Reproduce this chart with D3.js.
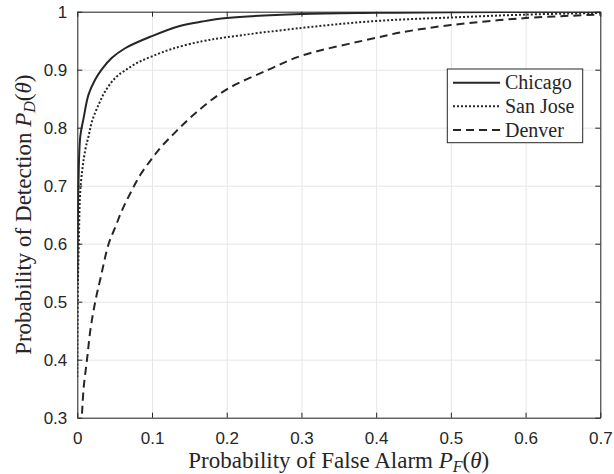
<!DOCTYPE html>
<html>
<head>
<meta charset="utf-8">
<script src="https://cdn.jsdelivr.net/npm/d3@7"></script>
<style>
  body { margin: 0; background: #fff; }
  svg { display: block; }
  .tick text { font-family: "Liberation Sans", Arial, sans-serif; font-size: 17px; fill: #262626; }
  .lbl { font-family: "Liberation Serif", "Times New Roman", serif; font-size: 23px; fill: #262626; }
  .leg { font-family: "Liberation Serif", "Times New Roman", serif; font-size: 20px; fill: #262626; }
</style>
</head>
<body>
<svg width="614" height="474"></svg>
<script>
// series: [false alarm, detection]
const chicagoX = [0, 0.0005, 0.0015, 0.004, 0.0085, 0.015, 0.024, 0.033, 0.046, 0.064, 0.1, 0.136, 0.167, 0.2, 0.3, 0.4, 0.5, 0.6, 0.7];
const chicagoY = [0.535, 0.6, 0.7, 0.785, 0.817, 0.857, 0.883, 0.901, 0.92, 0.937, 0.958, 0.975, 0.983, 0.989, 0.996, 0.998, 0.999, 0.9995, 1.0];

const sanJoseX = [0, 0.0005, 0.002, 0.0045, 0.0107, 0.015, 0.0197, 0.0286, 0.0375, 0.051, 0.0665, 0.082, 0.1, 0.127, 0.167, 0.2, 0.3, 0.4, 0.5, 0.6, 0.7];
const sanJoseY = [0.37, 0.5, 0.6, 0.7, 0.762, 0.785, 0.811, 0.84, 0.863, 0.886, 0.901, 0.913, 0.923, 0.936, 0.949, 0.956, 0.972, 0.984, 0.99, 0.995, 0.998];

const denverX = [0.0063, 0.0086, 0.013, 0.0174, 0.024, 0.031, 0.042, 0.051, 0.06, 0.071, 0.084, 0.1, 0.113, 0.131, 0.158, 0.2, 0.256, 0.3, 0.4, 0.432, 0.5, 0.6, 0.7];
const denverY = [0.307, 0.353, 0.4, 0.45, 0.5, 0.54, 0.6, 0.629, 0.658, 0.687, 0.718, 0.747, 0.768, 0.792, 0.825, 0.866, 0.9, 0.924, 0.955, 0.964, 0.977, 0.989, 0.995];

const names = ['Chicago', 'San Jose', 'Denver'];
const xTicks = [0, 0.1, 0.2, 0.3, 0.4, 0.5, 0.6, 0.7];
const yTicks = [0.3, 0.4, 0.5, 0.6, 0.7, 0.8, 0.9, 1];

const series = [
  { name: names[0], pts: chicagoX.map((x, i) => [x, chicagoY[i]]), dash: null },
  { name: names[1], pts: sanJoseX.map((x, i) => [x, sanJoseY[i]]), dash: '2 2' },
  { name: names[2], pts: denverX.map((x, i) => [x, denverY[i]]), dash: '8 5' }
];

const pLeft = 77.3, pRight = 600.3, pTop = 11.7, pBottom = 417.7;
const ink = '#262626';

const svg = d3.select('svg');

const x = d3.scaleLinear().domain([0, 0.7]).range([pLeft, pRight]);
const y = d3.scaleLinear().domain([0.3, 1]).range([pBottom, pTop]);

// grid
svg.append('g')
  .attr('transform', `translate(0, ${pBottom})`)
  .call(d3.axisBottom(x).tickValues(xTicks).tickSize(-(pBottom - pTop)).tickFormat(''))
  .call(g => g.select('.domain').remove())
  .call(g => g.selectAll('line').attr('stroke', '#e6e6e6'));
svg.append('g')
  .attr('transform', `translate(${pLeft}, 0)`)
  .call(d3.axisLeft(y).tickValues(yTicks).tickSize(-(pRight - pLeft)).tickFormat(''))
  .call(g => g.select('.domain').remove())
  .call(g => g.selectAll('line').attr('stroke', '#e6e6e6'));

svg.append('clipPath').attr('id', 'clip')
  .append('rect').attr('x', pLeft).attr('y', pTop).attr('width', pRight - pLeft).attr('height', pBottom - pTop);

const line = d3.line().x(d => x(d[0])).y(d => y(d[1])).curve(d3.curveCatmullRom.alpha(0.5));

svg.append('g').attr('clip-path', 'url(#clip)')
  .selectAll('path')
  .data(series)
  .join('path')
  .attr('d', d => line(d.pts))
  .attr('fill', 'none')
  .attr('stroke', ink)
  .attr('stroke-width', 2)
  .attr('stroke-dasharray', d => d.dash);

// axes with inward ticks on all sides
const styleAxis = g => {
  g.select('.domain').attr('stroke', ink);
  g.selectAll('.tick line').attr('stroke', ink);
};
svg.append('g')
  .attr('transform', `translate(0, ${pBottom})`)
  .call(d3.axisBottom(x).tickValues(xTicks).tickSizeInner(-5).tickSizeOuter(0).tickPadding(14).tickFormat(d3.format('')))
  .call(styleAxis);
svg.append('g')
  .attr('transform', `translate(0, ${pTop})`)
  .call(d3.axisTop(x).tickValues(xTicks).tickSizeInner(-5).tickSizeOuter(0).tickFormat(''))
  .call(styleAxis);
svg.append('g')
  .attr('transform', `translate(${pLeft}, 0)`)
  .call(d3.axisLeft(y).tickValues(yTicks).tickSizeInner(-5).tickSizeOuter(0).tickPadding(10).tickFormat(d3.format('')))
  .call(styleAxis);
svg.append('g')
  .attr('transform', `translate(${pRight}, 0)`)
  .call(d3.axisRight(y).tickValues(yTicks).tickSizeInner(-5).tickSizeOuter(0).tickFormat(''))
  .call(styleAxis);

// axis labels
const xl = svg.append('text').attr('class', 'lbl')
  .attr('x', (pLeft + pRight) / 2).attr('y', 467.5).attr('text-anchor', 'middle');
xl.append('tspan').text('Probability of False Alarm ');
xl.append('tspan').attr('font-style', 'italic').text('P');
xl.append('tspan').attr('font-style', 'italic').attr('font-size', 16).attr('dy', 4).text('F');
xl.append('tspan').attr('dy', -4).text('(');
xl.append('tspan').attr('font-style', 'italic').text('θ');
xl.append('tspan').text(')');

const yl = svg.append('text').attr('class', 'lbl')
  .attr('transform', `translate(31, ${(pTop + pBottom) / 2}) rotate(-90)`)
  .attr('text-anchor', 'middle');
yl.append('tspan').text('Probability of Detection ');
yl.append('tspan').attr('font-style', 'italic').text('P');
yl.append('tspan').attr('font-style', 'italic').attr('font-size', 16).attr('dy', 4).text('D');
yl.append('tspan').attr('dy', -4).text('(');
yl.append('tspan').attr('font-style', 'italic').text('θ');
yl.append('tspan').text(')');

// legend
const lg = svg.append('g');
lg.append('rect')
  .attr('x', 447.3).attr('y', 69).attr('width', 135.4).attr('height', 73.7)
  .attr('fill', '#fff').attr('stroke', ink).attr('stroke-width', 1);
const row = d3.scalePoint().domain(names).range([82.7, 130]);
const item = lg.selectAll('g.item').data(series).join('g').attr('class', 'item')
  .attr('transform', d => `translate(0, ${row(d.name)})`);
item.append('line')
  .attr('x1', 453).attr('x2', 500)
  .attr('stroke', ink).attr('stroke-width', 2)
  .attr('stroke-dasharray', d => d.dash);
item.append('text').attr('class', 'leg')
  .attr('x', 505).attr('dy', '0.33em')
  .text(d => d.name);
</script>
</body>
</html>
